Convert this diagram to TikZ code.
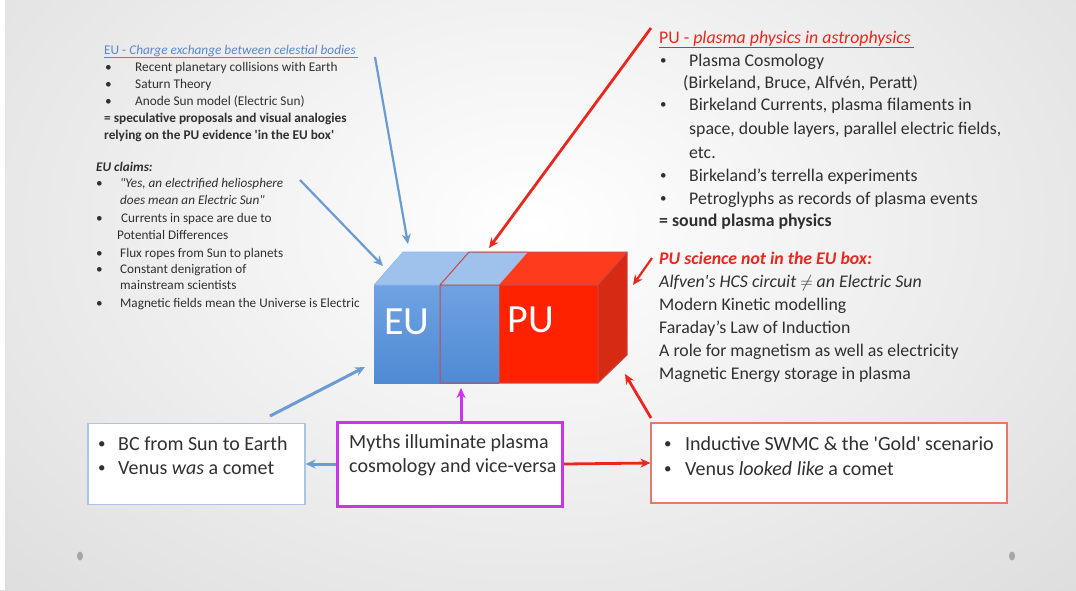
\documentclass[tikz,border=0pt]{standalone}
\usepackage{fontspec}
\setmainfont{Carlito}[Ligatures=TeXOff]
\usetikzlibrary{arrows.meta}
\definecolor{bgout}{HTML}{DCDCDC}
\definecolor{eublue}{HTML}{5B87C8}
\definecolor{arblue}{HTML}{6A9BD2}
\definecolor{arred}{HTML}{E8281E}
\definecolor{mag}{HTML}{CC33EE}
\definecolor{lbox}{HTML}{A8C4E6}
\definecolor{rbox}{HTML}{E27A6C}
\definecolor{txt}{HTML}{303030}
\definecolor{bfront}{HTML}{4F8AD4}
\definecolor{bfrontlight}{HTML}{6FA2E2}
\definecolor{btop}{HTML}{9FC2EC}
\definecolor{rfront}{HTML}{FF2200}
\definecolor{rside}{HTML}{D62A12}
\definecolor{rtop}{HTML}{FF3B1E}
\definecolor{redge}{HTML}{C8484A}
\tikzset{
  tl/.style={anchor=base west, inner sep=0pt, text=txt, font=\fontsize{13.3}{15}\selectfont},
  cl/.style={anchor=base west, inner sep=0pt, text=txt, font=\fontsize{13.2}{15}\selectfont},
  rl/.style={anchor=base west, inner sep=0pt, text=txt, font=\fontsize{17.8}{20}\selectfont},
  bl/.style={anchor=base west, inner sep=0pt, text=txt, font=\fontsize{20}{22}\selectfont},
  rbul/.style={anchor=base west, inner sep=0pt, text=txt, font=\fontsize{13}{14}\selectfont, yshift=1.6pt},
  bbul/.style={anchor=base west, inner sep=0pt, text=txt, font=\fontsize{15}{16}\selectfont, yshift=1.6pt},
  blar/.style={draw=arblue, line width=3pt, -{Stealth[length=10pt,width=9pt]}},
  rdar/.style={draw=arred, line width=2.8pt, -{Stealth[length=10pt,width=9pt]}},
  mgar/.style={draw=mag, line width=3pt, -{Stealth[length=10pt,width=9pt]}},
  dotg/.style={fill=gray!70, draw=none}
}
\begin{document}
\begin{tikzpicture}[x=1pt,y=-1pt]
\useasboundingbox (0,0) rectangle (1076,590);
% background
\fill[white] (0,0) rectangle (1076,590);
\shade[inner color=white, outer color=bgout] (-260,-330) rectangle (1330,780);
\fill[white] (0,0) rectangle (5,590);
\fill[dotg] (80,556) ellipse (3pt and 4.5pt);
\fill[dotg] (1012,556) ellipse (3pt and 4.5pt);

% ---------- cube ----------
\coordinate (fa) at (374,285); \coordinate (fb) at (499,285);
\coordinate (fc) at (598,285); \coordinate (fm) at (440,285);
\coordinate (ga) at (374,383); \coordinate (gb) at (499,383);
\coordinate (gc) at (598,383); \coordinate (gm) at (440,383);
\coordinate (ka) at (403,252); \coordinate (kb) at (528,252);
\coordinate (kc) at (627,252); \coordinate (km) at (469,252);
\coordinate (kd) at (627,355);
\shade[top color=bfrontlight, bottom color=bfront] (fa) rectangle (gb);
\fill[btop] (fa) -- (fb) -- (kb) -- (ka) -- cycle;
\fill[rfront] (fb) rectangle (gc);
\fill[rtop] (fb) -- (fc) -- (kc) -- (kb) -- cycle;
\fill[rside] (fc) -- (kc) -- (kd) -- (gc) -- cycle;
\draw[bfrontlight!80!white, line width=0.6pt] (fa) -- (fb) (fa) -- (ka) -- (kb);
\draw[redge, line width=1pt] (fm) rectangle (gc) (fm) -- (km) -- (kc) -- (fc) (kc) -- (kd) -- (gc);
\draw[redge, line width=1pt] (fb) -- (gb);
\node[text=white, font=\fontsize{40}{44}\selectfont, inner sep=0pt] (eulbl) at (407,322) {EU};
\node[text=white, font=\fontsize{40}{44}\selectfont, inner sep=0pt] (pulbl) at (531,320) {PU};
\coordinate (cubeTopL) at (408,244);
\coordinate (cubeTL) at (383,266);
\coordinate (cubeBL) at (365,367);
\coordinate (cubeB) at (461,388);
\coordinate (cubeTop) at (489,248);
\coordinate (cubeR) at (633,285);
\coordinate (cubeBR) at (625,374);

% ---------- top-left text ----------
\node[tl, text=eublue] (euh) at (104,54) {\underline{EU - \textit{Charge exchange between celestial bodies}\,}};
\node[tl] (e1b) at (105,71) {•};
\node[tl] (e1) at (135,71) {Recent planetary collisions with Earth};
\node[tl] (e2b) at (105,88) {•};
\node[tl] (e2) at (135,88) {Saturn Theory};
\node[tl] (e3b) at (105,105) {•};
\node[tl] (e3) at (135,105) {Anode Sun model (Electric Sun)};
\node[tl] (e4) at (104,122) {\textbf{= speculative proposals and visual analogies}};
\node[tl] (e5) at (104,139) {\textbf{relying on the PU evidence 'in the EU box'}};

\node[cl] (ch) at (96,171) {\textbf{\textit{EU claims:}}};
\node[cl] (c1b) at (96,187) {•};
\node[cl] (c1) at (120,187) {\textit{"Yes, an electrified heliosphere}};
\node[cl] (c1x) at (120,204) {\textit{does mean an Electric Sun"}};
\node[cl] (c2b) at (96,222) {•};
\node[cl] (c2) at (121,222) {Currents in space are due to};
\node[cl] (c2x) at (117,239) {Potential Differences};
\node[cl] (c3b) at (96,257) {•};
\node[cl] (c3) at (120,257) {Flux ropes from Sun to planets};
\node[cl] (c4b) at (96,273) {•};
\node[cl] (c4) at (120,273) {Constant denigration of};
\node[cl] (c4x) at (120,289) {mainstream scientists};
\node[cl] (c5b) at (96,307) {•};
\node[cl] (c5) at (120,307) {Magnetic fields mean the Universe is Electric};

% ---------- top-right text ----------
\node[rl, text=arred] (puh) at (659,43) {\underline{PU - \textit{plasma physics in astrophysics}\,}};
\node[rbul] (p1b) at (660,66) {•};
\node[rl] (p1) at (689,66) {Plasma Cosmology};
\node[rl] (p1x) at (683,88) {(Birkeland, Bruce, Alfvén, Peratt)};
\node[rbul] (p2b) at (660,110) {•};
\node[rl] (p2) at (689,110) {Birkeland Currents, plasma filaments in};
\node[rl] (p2x) at (689,134) {space, double layers, parallel electric fields,};
\node[rl] (p2y) at (689,158) {etc.};
\node[rbul] (p3b) at (660,181) {•};
\node[rl] (p3) at (689,181) {Birkeland’s terrella experiments};
\node[rbul] (p4b) at (660,204) {•};
\node[rl] (p4) at (689,204) {Petroglyphs as records of plasma events};
\node[rl] (p5) at (659,226) {\textbf{= sound plasma physics}};

\node[rl, text=arred] (nh) at (659,264) {\textbf{\textit{PU science not in the EU box:}}};
\node[rl] (n1) at (659,287) {\textit{Alfven's HCS circuit $\neq$ an Electric Sun}};
\node[rl] (n2) at (659,310) {Modern Kinetic modelling};
\node[rl] (n3) at (659,333) {Faraday’s Law of Induction};
\node[rl] (n4) at (659,356) {A role for magnetism as well as electricity};
\node[rl] (n5) at (659,379) {Magnetic Energy storage in plasma};

% ---------- bottom boxes ----------
\node[draw=lbox, line width=1.2pt, fill=white, minimum width=217pt, minimum height=81pt, inner sep=0pt] (lb) at (196.5,464) {};
\node[draw=mag, line width=3pt, fill=white, minimum width=225pt, minimum height=84pt, inner sep=0pt] (mb) at (450,464) {};
\node[draw=rbox, line width=1.2pt, fill=white, minimum width=356pt, minimum height=80pt, inner sep=0pt] (rb) at (829,463) {};

\node[bbul] (lb1b) at (98,450) {•};
\node[bl] (lb1) at (118,450) {BC from Sun to Earth};
\node[bbul] (lb2b) at (98,474) {•};
\node[bl] (lb2) at (118,474) {Venus \textit{was} a comet};
\node[bl] (mb1) at (349,448) {Myths illuminate plasma};
\node[bl] (mb2) at (349,472) {cosmology and vice-versa};
\node[bbul] (rb1b) at (664,450) {•};
\node[bl] (rb1) at (685,450) {Inductive SWMC \& the 'Gold' scenario};
\node[bbul] (rb2b) at (664,475) {•};
\node[bl] (rb2) at (685,475) {Venus \textit{looked like} a comet};

% ---------- arrows ----------
\coordinate (s1) at (375,57);
\draw[blar, line width=2.2pt] (s1) -- (cubeTopL);
\coordinate (s2) at (300,180);
\draw[blar, line width=2.2pt] (s2) -- (cubeTL);
\coordinate (s3) at (270,416);
\draw[blar] (s3) -- (cubeBL);
\draw[mgar] (mb.north -| cubeB) -- (cubeB);
\draw[blar] (mb.west) -- (lb.east);
\draw[rdar] (mb.east) -- (rb.west);
\coordinate (s4) at (651,418);
\draw[rdar] (s4) -- (cubeBR);
\coordinate (s5) at (651,28);
\draw[rdar] (s5) -- (cubeTop);
\coordinate (s6) at (652,258);
\draw[rdar, line width=2.2pt] (s6) -- (cubeR);
\end{tikzpicture}
\end{document}
